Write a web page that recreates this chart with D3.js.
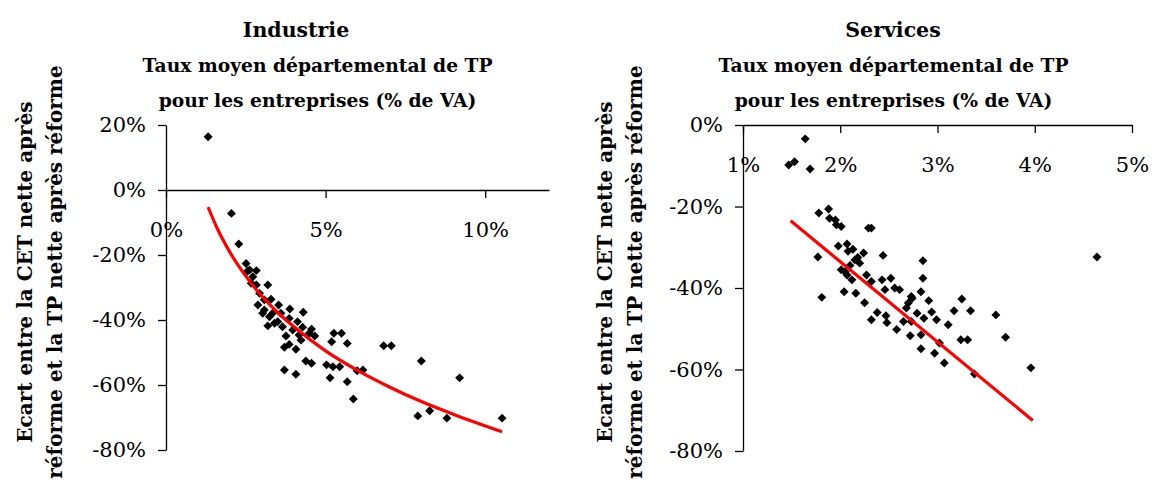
<!DOCTYPE html>
<html>
<head>
<meta charset="utf-8">
<script src="https://cdn.jsdelivr.net/npm/d3@7"></script>
<style>
  body { margin: 0; background: #fff; }
  svg text { font-family: "DejaVu Serif", serif; fill: #000; }
  .axis path, .axis line { stroke: #000; stroke-width: 1.3px; }
  .axis text { font-size: 21px; }
  .title { font-weight: bold; }
</style>
</head>
<body>
<div id="chart"></div>
<script>
var w = 1152,
    h = 482;

// Industrie : taux moyen de TP (% VA) / écart CET-TP (%)
var indX = [1.32, 2.05, 2.28, 2.51, 2.83, 2.62, 2.67, 2.83, 3.19, 2.93, 3.29, 3.53, 2.88, 3.08, 3.88,
            4.30, 3.24, 3.50, 3.86, 4.12, 3.19, 3.65, 3.97, 4.28, 4.56, 4.66, 3.76, 4.23, 3.86, 3.71,
            4.07, 5.26, 5.50, 5.19, 5.68, 6.82, 7.06, 4.38, 4.56, 5.03, 5.23, 5.44, 5.99, 6.17, 3.71,
            4.07, 5.14, 5.68, 5.87, 8.00, 9.20, 7.89, 8.26, 8.80, 10.53, 3.03, 3.34, 3.60, 3.40, 4.17,
            4.49, 2.72, 3.08, 2.55];
var indY = [16.4, -7.2, -16.6, -22.6, -24.8, -24.6, -28.7, -29.2, -29.2, -31.8, -33.6, -35.4, -35.4, -36.9, -36.6,
            -37.6, -39.0, -40.5, -39.5, -40.5, -41.8, -42.1, -43.1, -42.2, -42.8, -44.9, -44.9, -46.2, -47.5, -48.4,
            -49.0, -44.1, -44.1, -46.7, -47.2, -47.9, -47.9, -52.6, -53.3, -53.8, -54.4, -54.4, -55.6, -55.4, -55.4,
            -56.7, -57.8, -59.0, -64.3, -52.6, -57.8, -69.5, -67.9, -70.2, -70.2, -37.9, -37.9, -37.9, -41.0, -44.6,
            -44.1, -26.7, -33.8, -25.0];
var indTrendX = [1.32, 1.6, 2.0, 2.5, 3.0, 3.5, 4.0, 5.0, 6.0, 7.0, 8.0, 9.0, 10.53];
var indTrendY = [-5.3, -11.7, -19.1, -26.5, -32.6, -37.7, -42.0, -49.5, -55.5, -60.6, -65.1, -69.0, -74.4];

// Services
var servX = [1.64, 1.53, 1.47, 1.69, 1.78, 1.88, 1.89, 1.95, 1.96, 2.01, 2.29, 2.32, 1.77, 1.98, 2.07,
             2.08, 2.24, 2.44, 2.85, 2.15, 2.20, 2.01, 2.07, 2.12, 2.27, 2.32, 2.43, 2.52, 2.85, 4.64,
             2.04, 2.16, 1.81, 2.46, 2.56, 2.61, 2.83, 2.25, 2.73, 2.91, 3.25, 2.38, 2.32, 2.47, 2.48,
             2.58, 2.65, 2.73, 2.72, 2.83, 2.79, 2.86, 2.94, 2.99, 2.83, 2.97, 3.02, 3.07, 3.11, 3.17,
             3.34, 3.24, 3.31, 3.38, 3.60, 3.70, 3.96, 2.70, 2.68, 2.74, 2.10, 2.18, 2.05, 2.13];
var servY = [-3.4, -9.0, -9.8, -10.8, -21.6, -20.6, -22.9, -23.3, -24.5, -24.9, -25.3, -25.3, -32.4, -29.7, -29.2,
             -31.0, -31.4, -32.0, -33.3, -33.1, -33.9, -35.5, -36.8, -38.0, -36.8, -38.4, -38.0, -37.6, -37.6, -32.4,
             -40.9, -41.3, -42.3, -40.4, -40.0, -40.4, -40.9, -43.6, -42.1, -43.1, -42.7, -46.0, -47.8, -46.8, -48.5,
             -50.2, -48.2, -48.2, -51.7, -51.5, -46.2, -47.4, -45.9, -47.8, -54.9, -56.0, -53.5, -58.4, -49.0, -45.6,
             -45.6, -52.7, -52.7, -61.1, -46.6, -52.1, -59.6, -43.7, -44.9, -42.5, -34.5, -32.5, -36.0, -30.5];
var servTrendX = [1.49, 3.98];
var servTrendY = [-23.5, -72.5];

var indXTicks = [0, 5, 10],
    indYTicks = [20, 0, -20, -40, -60, -80],
    servXTicks = [1, 2, 3, 4, 5],
    servYTicks = [0, -20, -40, -60, -80];

var title1 = "Taux moyen départemental de TP",
    title2 = "pour les entreprises (% de VA)",
    ylab1 = "Ecart entre la CET nette après",
    ylab2 = "réforme et la TP nette après réforme";

var svg = d3.select("#chart").append("svg")
    .attr("width", w)
    .attr("height", h);

var pct = function(d) { return d + "%"; };

function panel(o) {
  var x = d3.scaleLinear().domain(o.xDomain).range(o.xRange),
      y = d3.scaleLinear().domain(o.yDomain).range(o.yRange);

  var g = svg.append("g");

  g.append("g")
      .attr("class", "axis")
      .attr("transform", "translate(0," + y(0) + ")")
      .call(d3.axisBottom(x).tickValues(o.xTicks).tickFormat(pct)
        .tickSize(8).tickSizeOuter(0).tickPadding(24));

  g.append("g")
      .attr("class", "axis")
      .attr("transform", "translate(" + x(o.xDomain[0]) + ",0)")
      .call(d3.axisLeft(y).tickValues(o.yTicks).tickFormat(pct)
        .tickSize(8).tickSizeOuter(0).tickPadding(12));

  g.selectAll(".axis text").attr("fill", "#000");

  // Nuage de points
  g.selectAll("path.pt")
      .data(d3.range(o.xs.length))
    .enter().append("path")
      .attr("class", "pt")
      .attr("d", d3.symbol(d3.symbolSquare, 40))
      .attr("transform", function(i) {
        return "translate(" + x(o.xs[i]) + "," + y(o.ys[i]) + ")rotate(45)";
      })
      .attr("fill", "#000");

  // Courbe de tendance
  var line = d3.line()
      .x(function(i) { return x(o.tx[i]); })
      .y(function(i) { return y(o.ty[i]); })
      .curve(d3.curveMonotoneX);

  g.append("path")
      .attr("d", line(d3.range(o.tx.length)))
      .attr("fill", "none")
      .attr("stroke", "#ff0000")
      .attr("stroke-width", 3.2);

  // Titres
  g.append("text")
      .attr("class", "title")
      .attr("x", o.titleX)
      .attr("y", 37)
      .attr("text-anchor", "middle")
      .style("font-size", "20.5px")
      .text(o.title);

  [title1, title2].forEach(function(t, k) {
    g.append("text")
        .attr("class", "title")
        .attr("x", o.subX)
        .attr("y", 72 + k * 35)
        .attr("text-anchor", "middle")
        .style("font-size", "18.7px")
        .text(t);
  });

  [ylab1, ylab2].forEach(function(t, k) {
    g.append("text")
        .attr("class", "title")
        .attr("transform", "translate(" + (o.ylabX + k * 30) + ",272)rotate(-90)")
        .attr("dy", "0.35em")
        .attr("text-anchor", "middle")
        .style("font-size", "20px")
        .text(t);
  });
}

panel({
  xs: indX, ys: indY, tx: indTrendX, ty: indTrendY,
  xDomain: [0, 12], xRange: [166, 549],
  yDomain: [20, -80], yRange: [125, 450],
  xTicks: indXTicks, yTicks: indYTicks,
  title: "Industrie", titleX: 296, subX: 317.5, ylabX: 25
});

panel({
  xs: servX, ys: servY, tx: servTrendX, ty: servTrendY,
  xDomain: [1, 5], xRange: [743, 1132],
  yDomain: [0, -80], yRange: [125, 451],
  xTicks: servXTicks, yTicks: servYTicks,
  title: "Services", titleX: 893, subX: 893.5, ylabX: 605
});
</script>
</body>
</html>
